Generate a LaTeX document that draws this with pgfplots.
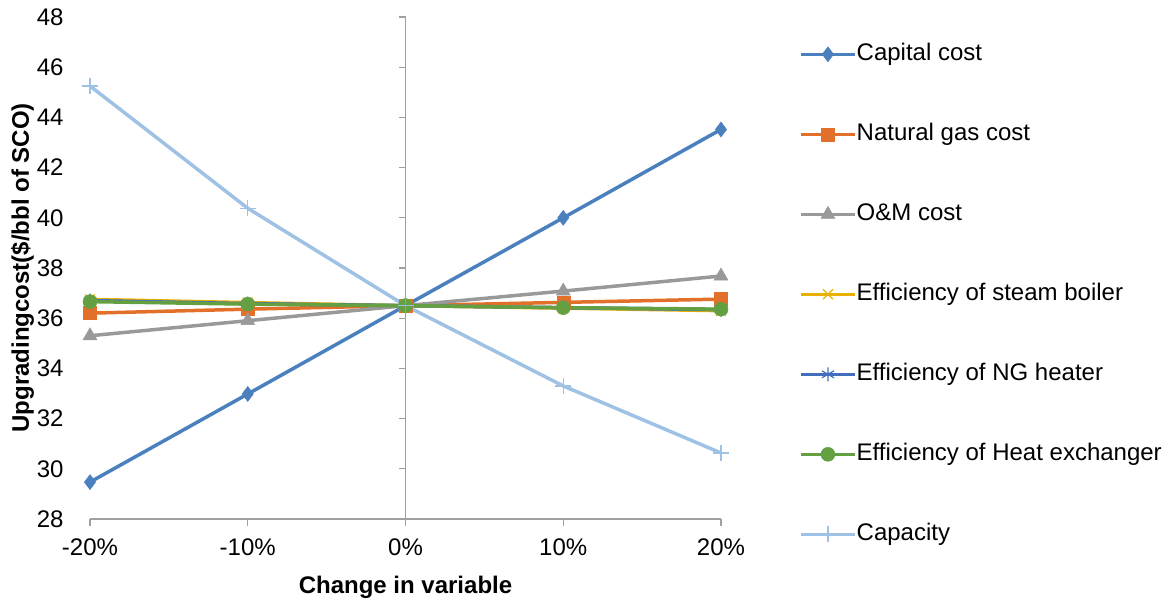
\documentclass[border=0pt]{standalone}
\usepackage{pgfplots}
\pgfplotsset{compat=1.18}
\usepackage{fontspec}
\setmainfont{Liberation Sans}
\definecolor{cCap}{RGB}{74,128,190}
\definecolor{cNG}{RGB}{226,112,42}
\definecolor{cOM}{RGB}{153,153,153}
\definecolor{cSB}{RGB}{232,178,0}
\definecolor{cNH}{RGB}{66,110,190}
\definecolor{cHX}{RGB}{100,160,65}
\definecolor{cCp}{RGB}{158,193,228}
\definecolor{axgray}{RGB}{160,160,160}
\begin{document}
\begin{tikzpicture}[x=1bp,y=1bp]
\useasboundingbox (0,0) rectangle (1172,599);
\begin{axis}[
  at={(90bp,80bp)}, anchor=south west,
  scale only axis, width=631bp, height=502bp,
  xmin=-20, xmax=20, ymin=28, ymax=48,
  xtick={-20,-10,0,10,20},
  xticklabels={-20\%,-10\%,0\%,10\%,20\%},
  ytick={28,30,...,48},
  axis x line*=bottom, axis y line*=left,
  y axis line style={draw=none},
  x axis line style={axgray, line width=1.2bp},
  xtick style={axgray, line width=1.2bp},
  ytick style={draw=none},
  tick align=outside,
  major tick length=7bp,
  ticklabel style={font=\fontsize{24bp}{28bp}\selectfont},
  /pgf/number format/assume math mode=true,
  xticklabel style={yshift=-9bp},
  yticklabel style={xshift=-16bp},
  xlabel={\textbf{Change in variable}},
  ylabel={\textbf{Upgradingcost(\$/bbl of SCO)}},
  label style={font=\fontsize{24bp}{28bp}\selectfont},
  xlabel style={yshift=-14bp},
  ylabel style={yshift=-4bp},
  clip=false,
  every axis plot/.append style={line width=3.5bp},
  legend cell align=left,
  legend style={draw=none, fill=none, at={(1.1236,0.948)}, anchor=north west,
    font=\fontsize{24bp}{28bp}\selectfont,
    row sep=58bp, inner sep=0pt,
    nodes={inner sep=0pt, text height=17bp, text depth=5bp},
    /tikz/every even column/.append style={column sep=5bp}},
  legend image code/.code={\draw[mark repeat=2,mark phase=2] plot coordinates {(0bp,0bp) (27bp,0bp) (54bp,0bp)};},
]
\addplot[cCap, mark=diamond*, mark size=7.5bp, mark options={solid, line width=0.5bp}] coordinates {(-20,29.47) (-10,32.98) (0,36.5) (10,40.0) (20,43.52)};
\addlegendentry{Capital cost}
\addplot[cNG, mark=square*, mark size=6.5bp, mark options={solid, line width=0.5bp}] coordinates {(-20,36.2) (-10,36.36) (0,36.5) (10,36.63) (20,36.76)};
\addlegendentry{Natural gas cost}
\addplot[cOM, mark=triangle*, mark size=8bp, mark options={solid, line width=0.5bp}] coordinates {(-20,35.3) (-10,35.9) (0,36.5) (10,37.08) (20,37.68)};
\addlegendentry{O\&M cost}
\addplot[cSB, mark=x, mark size=7bp, mark options={solid, line width=1.2bp}] coordinates {(-20,36.75) (-10,36.62) (0,36.5) (10,36.4) (20,36.3)};
\addlegendentry{Efficiency of steam boiler}
\addplot[cNH, mark=asterisk, mark size=7bp, mark options={solid, line width=1.2bp}] coordinates {(-20,36.7) (-10,36.58) (0,36.5) (10,36.42) (20,36.34)};
\addlegendentry{Efficiency of NG heater}
\addplot[cHX, mark=*, mark size=7bp, mark options={solid, line width=0.5bp}] coordinates {(-20,36.66) (-10,36.56) (0,36.5) (10,36.42) (20,36.36)};
\addlegendentry{Efficiency of Heat exchanger}
\addplot[cCp, mark=+, mark size=8bp, mark options={solid, line width=1.2bp}] coordinates {(-20,45.25) (-10,40.38) (0,36.5) (10,33.3) (20,30.63)};
\addlegendentry{Capacity}
\end{axis}
\begin{axis}[
  at={(90bp,80bp)}, anchor=south west,
  scale only axis, width=631bp, height=502bp,
  xmin=-20, xmax=20, ymin=28, ymax=48,
  axis x line=none, axis y line=center,
  y axis line style={axgray, line width=1.2bp, -},
  ytick={28,30,...,48}, yticklabels={},
  xtick=\empty,
  ytick style={axgray, line width=1.2bp},
  ytick align=outside, major tick length=7bp,
]
\end{axis}
\end{tikzpicture}
\end{document}
